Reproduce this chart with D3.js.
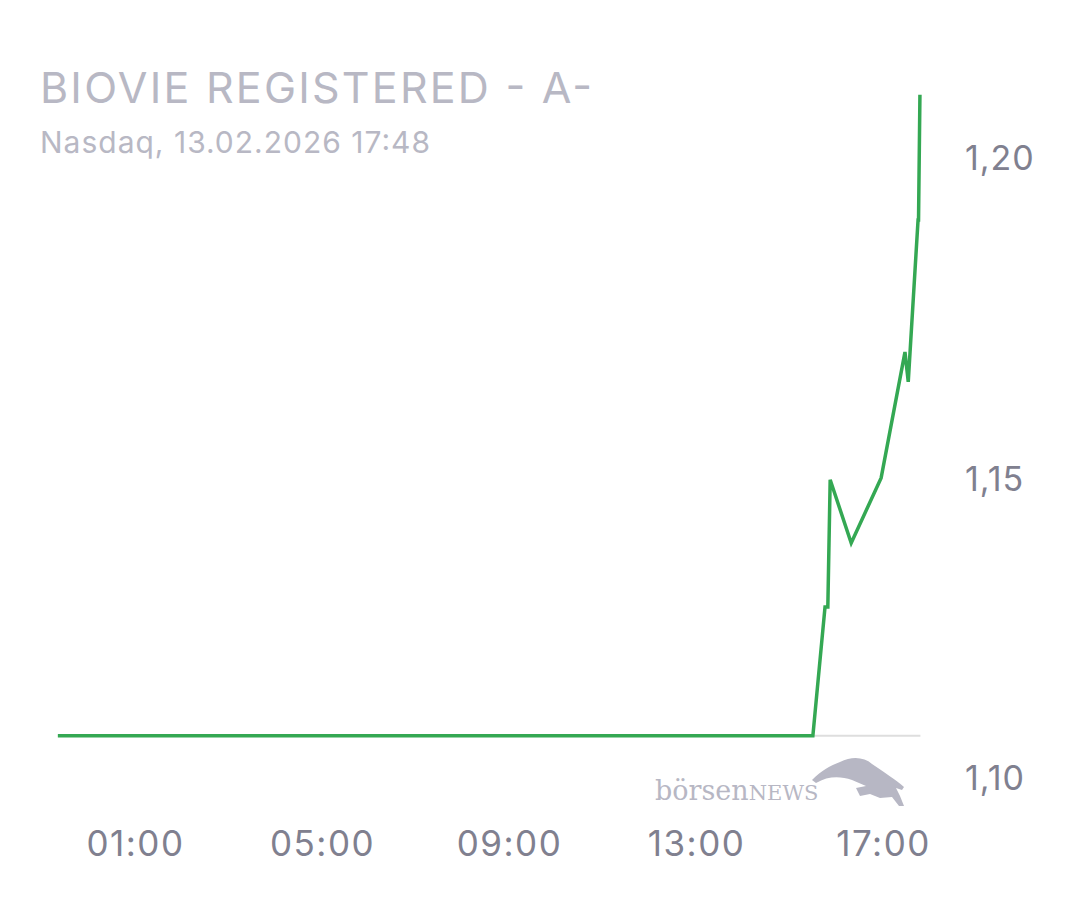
<!DOCTYPE html><html><head><meta charset="utf-8">
<script src="https://cdn.jsdelivr.net/npm/d3@7"></script>
<style>body{margin:0;background:#fff}</style></head><body>
<svg id="c" width="1080" height="900"></svg>
<script>
const times=[-0.65,15.50,15.76,15.82,15.87,16.32,16.96,17.47,17.54,17.75,17.76,17.79];
const prices=[1.1068,1.1068,1.1276,1.1276,1.1481,1.1379,1.1484,1.1687,1.1639,1.1900,1.1900,1.2102];
const yTicks=[1.10,1.15,1.20];
const xTicks=[1,5,9,13,17];
const tickLabels=["01:00","05:00","09:00","13:00","17:00"];
const prevClose=1.1068;
const svg=d3.select("#c");
const x=d3.scaleLinear().domain([1,17]).range([135,883]);
const y=d3.scaleLinear().domain([1.10,1.20]).range([778,158]);
const font="Inter, 'Noto Sans', sans-serif";
svg.append("text").attr("x",40).attr("y",103).attr("font-family",font).attr("font-size",43).attr("fill","#b8b8c4").attr("textLength",552).attr("lengthAdjust","spacing").text("BIOVIE REGISTERED - A-");
svg.append("text").attr("x",40).attr("y",153).attr("font-family",font).attr("font-size",30).attr("fill","#b8b8c4").attr("textLength",390).attr("lengthAdjust","spacing").text("Nasdaq, 13.02.2026 17:48");
svg.append("line").attr("x1",x(times[0])).attr("x2",x(17.8)).attr("y1",y(prevClose)).attr("y2",y(prevClose)).attr("stroke","#dedede").attr("stroke-width",2);
const ya=d3.axisRight(y).tickValues(yTicks).tickSize(0).tickFormat(d=>d3.format(".2f")(d).replace(".",","));
const yg=svg.append("g").attr("transform","translate(962,0)").call(ya);
yg.select(".domain").remove();
yg.selectAll("text").attr("font-family",font).attr("font-size",34).attr("fill","#80808f").attr("letter-spacing",1).attr("dy",(d)=>d===1.15?"0.65em":"0.35em");
const xa=d3.axisBottom(x).tickValues(xTicks).tickSize(0).tickFormat((d,i)=>tickLabels[i]);
const xg=svg.append("g").attr("transform","translate(0,828)").call(xa);
xg.select(".domain").remove();
xg.selectAll("text").attr("font-family",font).attr("font-size",35).attr("fill","#80808f").attr("letter-spacing",1.5);
svg.append("path").datum(times.map((t,i)=>[t,prices[i]])).attr("d",d3.line().x(d=>x(d[0])).y(d=>y(d[1]))).attr("fill","none").attr("stroke","#34a853").attr("stroke-width",3.5).attr("stroke-linejoin","miter");
const logo=svg.append("g").attr("fill","#b7b7c4");
logo.append("text").attr("x",655).attr("y",800).attr("font-family","'DejaVu Serif','Liberation Serif',serif").attr("font-size",27).html('börsen<tspan font-size="21">NEWS</tspan>');
logo.append("path").attr("d","M812,780 C822,770 830,766 840,762 C852,756 864,757 872,764 C884,772 896,780 904,787 L902,790 L896,788 L900,796 L904,806 L899,806 L892,797 L880,798 L870,794 L860,796 L856,788 L866,786 L852,780 C840,776 828,776 816,783 Z");
</script></body></html>
